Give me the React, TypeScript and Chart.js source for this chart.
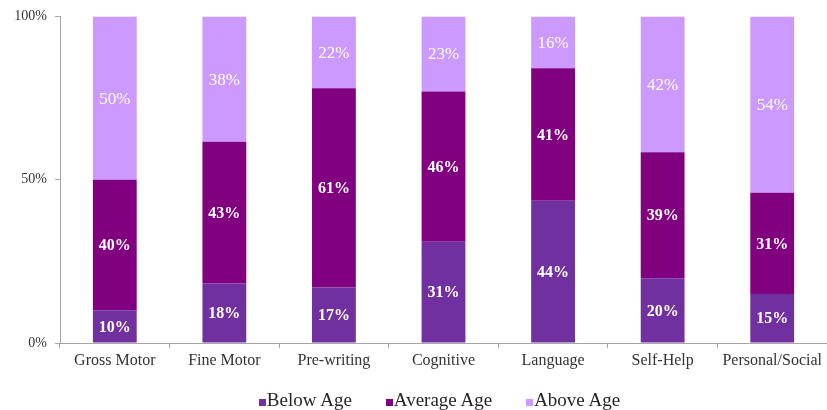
import React, { useEffect, useRef } from "react";
import { Chart, registerables } from "chart.js";

Chart.register(...registerables);

const categories = ["Gross Motor", "Fine Motor", "Pre-writing", "Cognitive", "Language", "Self-Help", "Personal/Social"];
const seriesNames = ["Below Age", "Average Age", "Above Age"];
const belowAge = [10, 18, 17, 31, 44, 20, 15];
const averageAge = [40, 43, 61, 46, 41, 39, 31];
const aboveAge = [50, 38, 22, 23, 16, 42, 54];
const yTicks = [0, 50, 100];
const colors = ["#7030A0", "#800080", "#CC99FF"];

const rawSeries = [belowAge, averageAge, aboveAge];
const totals = categories.map((_, j) => rawSeries.reduce((s, arr) => s + arr[j], 0));
const normalized = rawSeries.map((arr) => arr.map((v, j) => (v / totals[j]) * 100));

const FONT = "'Liberation Serif', 'Times New Roman', serif";

const labelPlugin = {
  id: "segLabels",
  afterDatasetsDraw(chart: any) {
    const ctx = chart.ctx;
    ctx.save();
    ctx.textAlign = "center";
    ctx.textBaseline = "middle";
    ctx.fillStyle = "#ffffff";
    chart.data.datasets.forEach((_: any, i: number) => {
      const meta = chart.getDatasetMeta(i);
      ctx.font = i === 2 ? `normal 17px ${FONT}` : `bold 16px ${FONT}`;
      meta.data.forEach((bar: any, j: number) => {
        const p = bar.getProps(["x", "y", "base"], true);
        ctx.fillText(rawSeries[i][j] + "%", p.x, (p.y + p.base) / 2 + 1);
      });
    });
    ctx.restore();
  },
};

export default function App() {
  const ref = useRef<HTMLCanvasElement | null>(null);
  useEffect(() => {
    document.body.style.margin = "0";
    const chart = new Chart(ref.current as HTMLCanvasElement, {
      type: "bar",
      data: {
        labels: categories,
        datasets: seriesNames.map((name, i) => ({
          label: name,
          data: normalized[i],
          backgroundColor: colors[i],
          borderWidth: 0,
          categoryPercentage: 1,
          barPercentage: 0.4,
        })),
      },
      options: {
        responsive: false,
        animation: false,
        devicePixelRatio: 1,
        layout: { padding: { top: 16, bottom: 40, left: 0, right: 0 } },
        plugins: { legend: { display: false }, tooltip: { enabled: false } },
        scales: {
          x: {
            stacked: true,
            offset: true,
            grid: { offset: true, drawOnChartArea: false, drawTicks: true, tickLength: 5, color: "#a6a6a6" },
            border: { color: "#a6a6a6", width: 1 },
            ticks: { color: "#333333", font: { family: FONT, size: 16 }, padding: 3, maxRotation: 0, autoSkip: false },
            afterFit: (s: any) => { s.height = 27; },
          },
          y: {
            stacked: true,
            min: 0,
            max: 100,
            afterBuildTicks: (s: any) => { s.ticks = yTicks.map((v) => ({ value: v })); },
            grid: { drawOnChartArea: false, drawTicks: true, tickLength: 5, color: "#a6a6a6" },
            border: { color: "#a6a6a6", width: 1 },
            ticks: { color: "#333333", font: { family: FONT, size: 14 }, padding: 8, callback: (v: any) => v + "%" },
            afterFit: (s: any) => { s.width = 60; },
          },
        },
      },
      plugins: [labelPlugin],
    });
    return () => chart.destroy();
  }, []);

  return (
    <div style={{ position: "relative", width: 827, height: 410 }}>
      <canvas ref={ref} width={827} height={410} style={{ display: "block" }} />
      <div
        style={{
          position: "absolute",
          left: 52,
          right: 0,
          top: 390,
          display: "flex",
          justifyContent: "center",
          fontFamily: FONT,
          fontSize: 19,
          color: "#262626",
          lineHeight: "20px",
        }}
      >
        {seriesNames.map((name, i) => (
          <div key={name} style={{ display: "flex", alignItems: "center", margin: "0 17px" }}>
            <span style={{ display: "inline-block", width: 7, height: 7, background: colors[i], marginRight: 1, marginTop: 5 }} />
            <span>{name}</span>
          </div>
        ))}
      </div>
    </div>
  );
}
